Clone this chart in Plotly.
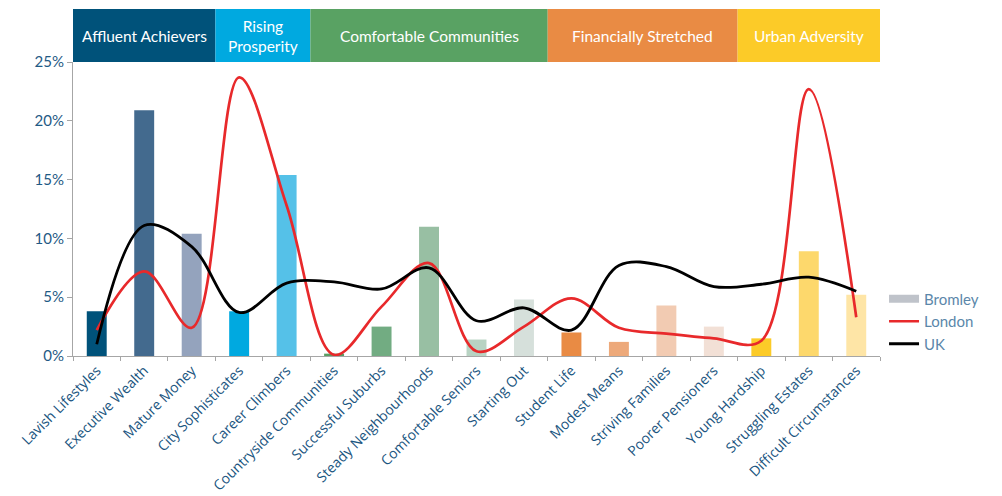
import plotly.graph_objects as go

categories = ["Lavish Lifestyles", "Executive Wealth", "Mature Money", "City Sophisticates",
              "Career Climbers", "Countryside Communities", "Successful Suburbs",
              "Steady Neighbourhoods", "Comfortable Seniors", "Starting Out", "Student Life",
              "Modest Means", "Striving Families", "Poorer Pensioners", "Young Hardship",
              "Struggling Estates", "Difficult Circumstances"]
bromley = [3.8, 20.9, 10.4, 3.8, 15.4, 0.2, 2.5, 11.0, 1.4, 4.8, 2.0, 1.2, 4.3, 2.5, 1.5, 8.9, 5.2]
london = [2.2, 7.2, 2.4, 23.7, 12.8, 0.1, 4.2, 7.9, 0.4, 2.5, 4.9, 2.4, 1.9, 1.5, 1.3, 22.7, 3.3]
uk = [1.0, 11.1, 9.3, 3.7, 6.2, 6.3, 5.7, 7.5, 3.0, 4.1, 2.2, 7.7, 7.6, 5.9, 6.1, 6.7, 5.5]
bar_colors = ["#00527A", "#436A8E", "#94A3BD", "#00A9E0", "#55C1E8", "#5A9E63", "#72AC82",
              "#98BFA3", "#B8D3C3", "#D6E0DB", "#E98B44", "#EDA97A", "#F2CBB2", "#F2E0D6",
              "#FCCB28", "#FDD86C", "#FEE5A6"]
groups = ["Affluent Achievers", "Rising<br>Prosperity", "Comfortable Communities",
          "Financially Stretched", "Urban Adversity"]
group_sizes = [3, 2, 5, 4, 3]
group_colors = ["#00527A", "#00A9E0", "#59A263", "#E98B44", "#FCCB28"]

fig = go.Figure()
fig.add_trace(go.Bar(x=categories, y=bromley, marker=dict(color=bar_colors, line=dict(width=0)),
                     width=0.42, showlegend=False, name="Bromley"))
fig.add_trace(go.Scatter(x=[None], y=[None], mode="lines", name="Bromley",
                         line=dict(color="#BFC3CA", width=8)))
fig.add_trace(go.Scatter(x=categories, y=london, mode="lines", name="London",
                         line=dict(color="#E8292B", width=2.7, shape="spline", smoothing=1.0)))
fig.add_trace(go.Scatter(x=categories, y=uk, mode="lines", name="UK",
                         line=dict(color="#000000", width=2.8, shape="spline", smoothing=1.0)))

start = 0
band_top = 1 + 53 / 294
for g, n, c in zip(groups, group_sizes, group_colors):
    x0 = start - 0.5
    x1 = start + n - 0.5
    fig.add_shape(type="rect", xref="x", yref="paper", x0=x0, x1=x1, y0=1.0, y1=band_top,
                  fillcolor=c, line=dict(width=0), layer="below")
    fig.add_annotation(x=(x0 + x1) / 2, y=(1.0 + band_top) / 2, xref="x", yref="paper",
                       text=g, showarrow=False, font=dict(color="white", size=15.5, family="Lato"),
                       xanchor="center", yanchor="middle")
    start += n

fig.update_layout(
    width=1002, height=496,
    margin=dict(l=73, r=122, t=62, b=140),
    paper_bgcolor="white", plot_bgcolor="white",
    barmode="overlay",
    legend=dict(x=1.005, y=0.25, xanchor="left", yanchor="top",
                font=dict(size=15, color="#5B87AA", family="Lato"),
                tracegroupgap=0, itemwidth=30),
    xaxis=dict(type="category", range=[-0.5, len(categories) - 0.5], showline=True,
               linecolor="#A6A6A6", linewidth=1, ticks="outside", tickson="boundaries",
               ticklen=4, tickcolor="#A6A6A6", tickangle=-45, automargin=False,
               tickfont=dict(size=14, color="#1A5580", family="Open Sans"), showgrid=False),
    yaxis=dict(range=[0, 25], dtick=5, ticksuffix="%", showline=True, linecolor="#A6A6A6",
               linewidth=1, ticks="outside", ticklen=5, tickcolor="#A6A6A6", showgrid=False,
               zeroline=False, automargin=False,
               tickfont=dict(size=15, color="#1F5A85", family="Lato")),
    font=dict(family="Open Sans"),
)

fig.write_html("out.html")
